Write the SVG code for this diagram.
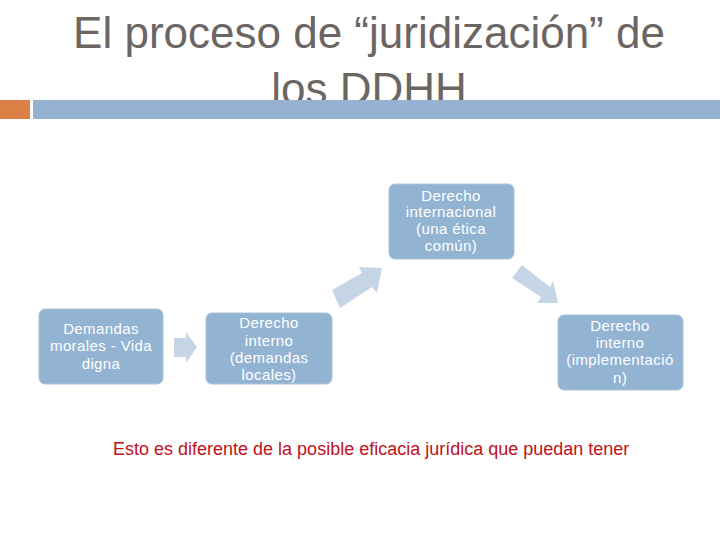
<svg xmlns="http://www.w3.org/2000/svg" width="720" height="540" viewBox="0 0 720 540">
<style>
.title{font-family:"Liberation Sans",Arial,sans-serif;font-size:44px;fill:#6b6563;text-anchor:middle}
.box{fill:#93b3d3;stroke:#a9c2dc;stroke-width:1}
.lbl{font-family:"Liberation Sans",Arial,sans-serif;font-size:15px;letter-spacing:0.4px;fill:#ffffff;text-anchor:middle}
.arr{fill:#c5d5e6}
.note{font-family:"Liberation Sans",Arial,sans-serif;font-size:18px;fill:#c0101a}
</style>
<rect width="720" height="540" fill="#ffffff"/>
<g id="title">
<text class="title" x="369" y="48">El proceso de “juridización” de</text>
<text class="title" x="369" y="104">los DDHH</text>
</g>
<g id="bar">
<rect x="0" y="100" width="30" height="19" fill="#dd8047"/>
<rect x="33" y="100" width="687" height="19" fill="#95b3d0"/>
</g>
<g id="connectors">
<polygon class="arr" points="174,338 186,338 186,332 197,347 186,363 186,357 174,357"/>
<polygon class="arr" points="332,290 362,273 359,267 382,268 377,293 372,287 340,308"/>
<polygon class="arr" points="522,265 550,287 553,281 558,303 537,303 541,297 512,278"/>
</g>
<g id="n1">
<rect class="box" x="39" y="309" width="124" height="75" rx="6"/>
<text class="lbl" x="101" y="334">Demandas</text>
<text class="lbl" x="101" y="351">morales - Vida</text>
<text class="lbl" x="101" y="369">digna</text>
</g>
<g id="n2">
<rect class="box" x="206" y="313" width="126" height="71" rx="6"/>
<text class="lbl" x="269" y="328">Derecho</text>
<text class="lbl" x="269" y="346">interno</text>
<text class="lbl" x="269" y="363">(demandas</text>
<text class="lbl" x="269" y="380">locales)</text>
</g>
<g id="n3">
<rect class="box" x="389" y="184" width="125" height="75" rx="6"/>
<text class="lbl" x="451" y="201">Derecho</text>
<text class="lbl" x="451" y="217">internacional</text>
<text class="lbl" x="451" y="234">(una ética</text>
<text class="lbl" x="451" y="251">común)</text>
</g>
<g id="n4">
<rect class="box" x="558" y="315" width="125" height="75" rx="6"/>
<text class="lbl" x="620" y="331">Derecho</text>
<text class="lbl" x="620" y="348">interno</text>
<text class="lbl" x="620" y="365">(implementació</text>
<text class="lbl" x="620" y="383">n)</text>
</g>
<g id="note">
<text class="note" x="113" y="455">Esto es diferente de la posible eficacia jurídica que puedan tener</text>
</g>
</svg>
